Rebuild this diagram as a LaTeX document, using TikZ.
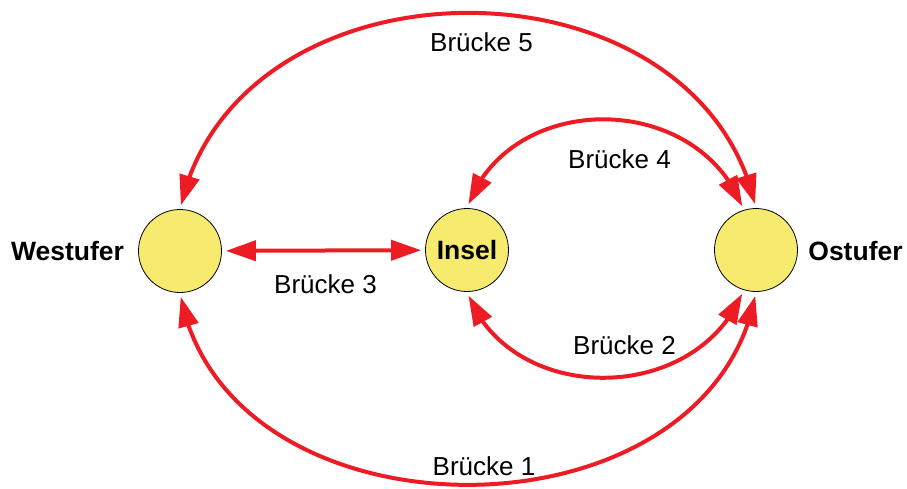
\documentclass[tikz,border=0pt]{standalone}
\usepackage{fontspec}
\setmainfont{Liberation Sans}
\usetikzlibrary{arrows.meta,bending}
\definecolor{bridgered}{RGB}{237,28,36}
\definecolor{shoreyellow}{RGB}{246,235,110}
\begin{document}
\begin{tikzpicture}[x=1pt,y=-1pt,
  land/.style={circle, draw=black, line width=0.8pt, fill=shoreyellow, minimum size=83pt, inner sep=0pt, font=\fontsize{26.5}{30}\selectfont\bfseries},
  landlabel/.style={anchor=base, inner sep=0pt, font=\fontsize{26.5}{30}\selectfont\bfseries},
  bridgelabel/.style={anchor=base, inner sep=0pt, font=\fontsize{26}{30}\selectfont},
  bridge/.style={draw=bridgered, line width=4pt, {Triangle[length=30pt,width=20pt]}-{Triangle[length=30pt,width=20pt]}, shorten <=4pt, shorten >=4pt}]
\useasboundingbox (0,0) rectangle (907,488);
\node[land] (W) at (180,251) {};
\node[land] (I) at (467,250) {Insel};
\node[land] (O) at (756,250) {};
\node[landlabel] (Wl) at (67.5,260) {Westufer};
\node[landlabel] (Ol) at (855.5,260) {Ostufer};
\draw[bridge] (W) -- (I);
\draw[bridge] (W.north) .. controls (236.8,-52.4) and (699.2,-52.4) .. (O.north);
\draw[bridge] (I.north) .. controls (508.5,89.4) and (698.5,89.4) .. (O.107);
\draw[bridge] (I.south) .. controls (509.5,406.7) and (697.5,406.7) .. (O.253);
\draw[bridge] (W.south) .. controls (225,549) and (711,549) .. (O.south);
\node[bridgelabel] (b5) at (481.5,51) {Brücke 5};
\node[bridgelabel] (b4) at (619.5,168) {Brücke 4};
\node[bridgelabel] (b3) at (325.5,293) {Brücke 3};
\node[bridgelabel] (b2) at (624.5,354) {Brücke 2};
\node[bridgelabel] (b1) at (484,475) {Brücke 1};
\end{tikzpicture}
\end{document}
